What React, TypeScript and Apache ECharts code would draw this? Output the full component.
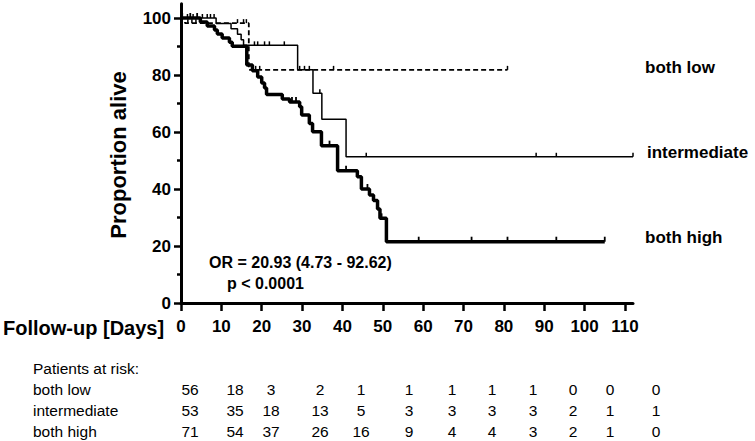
import React, { useEffect, useRef } from 'react';
import * as echarts from 'echarts';

// Kaplan-Meier step points [day, % alive]
const bothLowSteps: number[][] = [[0, 100], [1, 98.2], [16.8, 81.8], [80.9, 81.8]];
const bothLowCensor: number[][] = [[1.7, 98.2], [2.7, 98.2], [3.7, 98.2], [14, 98.2], [15.5, 98.2], [16.2, 98.2], [18.5, 81.8], [19.5, 81.8], [29.4, 81.8], [30.6, 81.8], [31.8, 81.8], [37.8, 81.8], [80.9, 81.8]];

const intermediateSteps: number[][] = [[0, 100], [8.7, 98.1], [12.4, 96.2], [14, 94.3], [14.9, 92.4], [15.5, 90.4], [28.9, 81.8], [32.7, 73.6], [34.9, 64.5], [40.9, 51.3], [112, 51.3]];
const intermediateCensor: number[][] = [[1.6, 100], [3, 100], [5.3, 100], [6.5, 100], [7.3, 100], [8.2, 100], [18.2, 90.4], [19, 90.4], [20.7, 90.4], [21.9, 90.4], [25.6, 90.4], [34.4, 73.6], [45.9, 51.3], [88, 51.3], [93, 51.3], [112, 51.3]];

const bothHighSteps: number[][] = [[0, 100], [4.8, 98.6], [6.5, 97.2], [8.3, 95.8], [9, 94.4], [10.2, 93], [12, 91.5], [12.7, 90.1], [16.3, 83.5], [17.7, 81.5], [19, 79.3], [20, 77.2], [20.7, 75.4], [21.2, 73.2], [25.1, 71.6], [26.9, 70.5], [29.4, 68.9], [29.9, 66], [31.8, 63], [32.6, 60.1], [34.8, 55.2], [38.8, 46.4], [43.7, 44.3], [44.7, 40], [46.7, 37.9], [47.7, 36], [48.7, 33], [49.3, 29.7], [50.9, 21.5], [105, 21.5]];
const bothHighCensor: number[][] = [[0.3, 100], [2.3, 100], [4, 100], [27.5, 70.5], [28.5, 70.5], [36.8, 55.2], [40.9, 46.4], [46.2, 40], [49.7, 29.7], [58.9, 21.5], [72, 21.5], [80.9, 21.5], [93, 21.5], [105, 21.5]];

const xTicks = [0, 10, 20, 30, 40, 50, 60, 70, 80, 90, 100, 110];
const yTicks = [0, 20, 40, 60, 80, 100];
const yMinorTicks = [10, 30, 50, 70, 90];

const groupLabels = ['both low', 'intermediate', 'both high'];
const riskBothLow = [56, 18, 3, 2, 1, 1, 1, 1, 1, 0, 0, 0];
const riskIntermediate = [53, 35, 18, 13, 5, 3, 3, 3, 3, 2, 1, 1];
const riskBothHigh = [71, 54, 37, 26, 16, 9, 4, 4, 3, 2, 1, 0];

const FONT = '"Liberation Sans", Arial, Helvetica, sans-serif';

function censorSeries(data: number[][], h: number, w: number) {
  return {
    type: 'custom',
    data,
    z: 5,
    renderItem: (_p: any, api: any) => {
      const pt = api.coord([api.value(0), api.value(1)]);
      return {
        type: 'line',
        shape: { x1: pt[0], y1: pt[1], x2: pt[0], y2: pt[1] - h },
        style: { stroke: '#000', lineWidth: w },
      };
    },
  };
}

export default function App() {
  const ref = useRef<HTMLDivElement>(null);
  useEffect(() => {
    if (!ref.current) return;
    const chart = echarts.init(ref.current, null, { renderer: 'svg' });
    const colX = [190, 235, 271, 320, 361, 409, 452, 492, 533, 573, 610, 656];
    const rowsY = [389, 410, 431];
    const riskRows = [riskBothLow, riskIntermediate, riskBothHigh];
    const graphic: any[] = [];
    graphic.push({ type: 'text', x: 118, y: 155, rotation: Math.PI / 2, style: { text: 'Proportion alive', font: `bold 22px ${FONT}`, fill: '#000', align: 'center', verticalAlign: 'middle' } });
    graphic.push({ type: 'text', x: 3, y: 328, style: { text: 'Follow-up [Days]', font: `bold 20px ${FONT}`, fill: '#000', align: 'left', verticalAlign: 'middle' } });
    graphic.push({ type: 'text', x: 209, y: 262, style: { text: 'OR = 20.93 (4.73 - 92.62)', font: `bold 16px ${FONT}`, fill: '#000', align: 'left', verticalAlign: 'middle' } });
    graphic.push({ type: 'text', x: 227, y: 283, style: { text: 'p < 0.0001', font: `bold 16px ${FONT}`, fill: '#000', align: 'left', verticalAlign: 'middle' } });
    const endY = [67, 152, 237];
    const endX = [645, 647, 645];
    groupLabels.forEach((g, i) => {
      graphic.push({ type: 'text', x: endX[i], y: endY[i], style: { text: g, font: `bold 17px ${FONT}`, fill: '#000', align: 'left', verticalAlign: 'middle' } });
    });
    graphic.push({ type: 'text', x: 33, y: 368, style: { text: 'Patients at risk:', font: `15.5px ${FONT}`, fill: '#000', align: 'left', verticalAlign: 'middle' } });
    groupLabels.forEach((g, i) => {
      graphic.push({ type: 'text', x: 33, y: rowsY[i], style: { text: g, font: `15.5px ${FONT}`, fill: '#000', align: 'left', verticalAlign: 'middle' } });
      riskRows[i].forEach((v, j) => {
        graphic.push({ type: 'text', x: colX[j], y: rowsY[i], style: { text: String(v), font: `15.5px ${FONT}`, fill: '#000', align: 'center', verticalAlign: 'middle' } });
      });
    });

    const labelStyle = { color: '#000', fontFamily: FONT, fontWeight: 'bold' as const, fontSize: 17 };
    chart.setOption({
      animation: false,
      grid: { left: 181, right: 122, top: 3.75, bottom: 138 },
      xAxis: {
        type: 'value', min: 0, max: 112,
        axisLine: { lineStyle: { color: '#000', width: 3 } },
        axisTick: { customValues: xTicks, length: 8, lineStyle: { color: '#000', width: 2.5 } },
        axisLabel: { customValues: xTicks, margin: 15, ...labelStyle },
        splitLine: { show: false },
      },
      yAxis: [
        {
          type: 'value', min: 0, max: 105, position: 'left',
          axisLine: { show: true, lineStyle: { color: '#000', width: 3 } },
          axisTick: { show: true, customValues: yTicks, length: 7, lineStyle: { color: '#000', width: 2.5 } },
          axisLabel: { customValues: yTicks, margin: 10, ...labelStyle },
          splitLine: { show: false },
        },
        {
          type: 'value', min: 0, max: 105, position: 'left',
          axisLine: { show: false },
          axisTick: { show: true, customValues: yMinorTicks, length: 4, lineStyle: { color: '#000', width: 2.5 } },
          axisLabel: { show: false },
          splitLine: { show: false },
        },
      ],
      series: [
        { type: 'line', step: 'end', data: bothLowSteps, symbol: 'none', lineStyle: { color: '#000', width: 1.8, type: [5, 3] }, z: 3 },
        { type: 'line', step: 'end', data: intermediateSteps, symbol: 'none', lineStyle: { color: '#000', width: 1.5 }, z: 3 },
        { type: 'line', step: 'end', data: bothHighSteps, symbol: 'none', lineStyle: { color: '#000', width: 3.5 }, z: 4 },
        censorSeries(bothLowCensor, 4, 1.5),
        censorSeries(intermediateCensor, 4, 1.5),
        censorSeries(bothHighCensor, 5, 1.8),
      ],
      graphic,
    });
    return () => chart.dispose();
  }, []);
  return <div ref={ref} style={{ position: 'absolute', left: 0, top: 0, width: 755, height: 441, background: '#fff' }} />;
}
